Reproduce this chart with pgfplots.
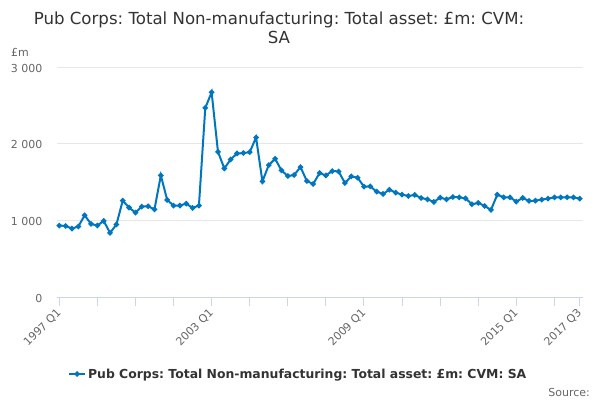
\documentclass[border=0pt]{standalone}
\usepackage{pgfplots}
\pgfplotsset{compat=1.18}
\usepackage{fontspec}
\setmainfont{DejaVu Sans}
\frenchspacing
\definecolor{lineblue}{RGB}{0,118,190}
\definecolor{gridgrey}{RGB}{230,230,230}
\definecolor{axisgrey}{RGB}{204,214,235}
\definecolor{labelgrey}{RGB}{102,102,102}
\definecolor{titlegrey}{RGB}{51,51,51}
\begin{document}
\begin{tikzpicture}[x=1bp,y=1bp]
\path[use as bounding box,fill=white] (0,0) rectangle (600,400);
\node[font=\fontsize{16.6bp}{18.5bp}\selectfont,text=titlegrey,align=center,anchor=center] at (279,372) {Pub Corps: Total Non-manufacturing: Total asset: £m: CVM:\\SA};
\node[font=\fontsize{11bp}{13bp}\selectfont,text=labelgrey,anchor=west,inner sep=0pt] at (11,348) {£m};
\node[font=\fontsize{11bp}{13bp}\selectfont,text=labelgrey,anchor=east,inner sep=0pt] at (590,8) {Source:};
\begin{axis}[
  at={(57.3bp,103bp)}, anchor=south west,
  scale only axis, width=526bp, height=230bp,
  xmin=-0.31, xmax=82.55, ymin=0, ymax=3000,
  axis x line*=bottom, axis y line*=left,
  y axis line style={draw=none},
  x axis line style={color=axisgrey, line width=1bp},
  ymajorgrids, grid style={color=gridgrey, line width=1bp},
  ytick={0,1000,2000,3000},
  yticklabels={0,1 000,2 000,3 000},
  ytick style={draw=none},
  yticklabel style={font=\fontsize{11bp}{13bp}\selectfont, text=labelgrey, inner sep=0pt, xshift=-6bp, yshift=-1bp},
  xtick={0,24,48,72,82},
  xticklabels={1997 Q1,2003 Q1,2009 Q1,2015 Q1,2017 Q3},
  minor xtick={6,12,18,30,36,42,54,60,66,78},
  tick align=outside, major tick length=8.7bp, minor tick length=8.7bp,
  xtick style={color=axisgrey, line width=1bp},
  minor x tick style={color=axisgrey, line width=1bp},
  xticklabel style={font=\fontsize{11bp}{13bp}\selectfont, text=labelgrey, xshift=0bp, yshift=-5.3bp, rotate=45, anchor=east, inner sep=0pt},
  legend style={draw=none, fill=none, at={(0.458,-0.335)}, anchor=center, font=\fontsize{12.4bp}{14bp}\selectfont\bfseries, text=titlegrey, legend cell align=left},
  legend image code/.code={\draw[#1, mark repeat=2, mark phase=2] plot coordinates {(0bp,0bp) (8bp,0bp) (16bp,0bp)};},
  clip=false,
]
\addplot[color=lineblue, line width=2bp, mark=*, mark size=1.6bp, mark options={fill=lineblue, draw=lineblue}] coordinates {
(0,932) (1,927) (2,893) (3,919) (4,1066) (5,953) (6,932) (7,992) (8,836) (9,945)
(10,1257) (11,1166) (12,1101) (13,1179) (14,1183) (15,1144) (16,1586) (17,1266) (18,1192) (19,1192)
(20,1218) (21,1162) (22,1192) (23,2466) (24,2670) (25,1894) (26,1677) (27,1794) (28,1872) (29,1877)
(30,1890) (31,2080) (32,1508) (33,1721) (34,1803) (35,1651) (36,1578) (37,1591) (38,1695) (39,1513)
(40,1474) (41,1617) (42,1586) (43,1643) (44,1638) (45,1487) (46,1573) (47,1556) (48,1439) (49,1443)
(50,1374) (51,1344) (52,1400) (53,1362) (54,1335) (55,1318) (56,1331) (57,1292) (58,1274) (59,1240)
(60,1296) (61,1274) (62,1305) (63,1300) (64,1287) (65,1209) (66,1227) (67,1188) (68,1136) (69,1335)
(70,1300) (71,1300) (72,1244) (73,1292) (74,1253) (75,1257) (76,1270) (77,1283) (78,1300) (79,1300)
(80,1300) (81,1300) (82,1283)
};
\addlegendentry{Pub Corps: Total Non-manufacturing: Total asset: £m: CVM: SA}
\end{axis}
\end{tikzpicture}
\end{document}
